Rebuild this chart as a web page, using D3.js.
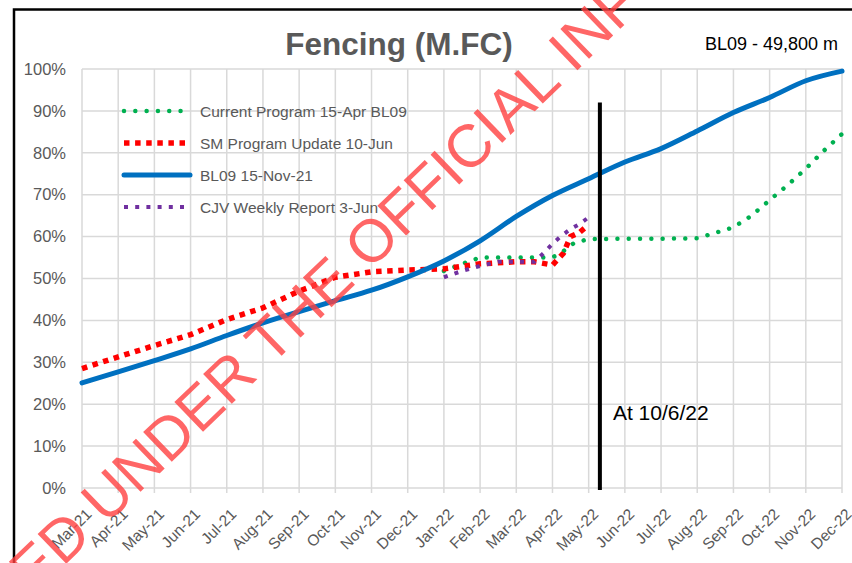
<!DOCTYPE html>
<html>
<head>
<meta charset="utf-8">
<script src="https://cdn.jsdelivr.net/npm/d3@7"></script>
<style>
  body { margin: 0; background: #fff; }
  svg { display: block; font-family: 'Liberation Sans', Arial, sans-serif; }
</style>
</head>
<body>
<div id="graf"></div>
<script>
// datos
months = ['Mar-21', 'Apr-21', 'May-21', 'Jun-21', 'Jul-21', 'Aug-21', 'Sep-21', 'Oct-21',
          'Nov-21', 'Dec-21', 'Jan-22', 'Feb-22', 'Mar-22', 'Apr-22', 'May-22', 'Jun-22',
          'Jul-22', 'Aug-22', 'Sep-22', 'Oct-22', 'Nov-22', 'Dec-22']
yTicks = [0, 10, 20, 30, 40, 50, 60, 70, 80, 90, 100]

// BL09 15-Nov-21, one value per month
bl09Values = [25.1, 27.7, 30.4, 33.2, 36.4, 39.4, 42.1, 44.7, 47.2, 50.4, 54.2, 59.0,
              64.8, 69.8, 73.8, 77.8, 81.0, 85.2, 89.6, 93.2, 97.2, 99.5]

// SM Program Update 10-Jun (month position, %)
smPos    = [0, 1, 2, 3, 4, 5, 6, 7, 8, 9, 10, 11, 12, 12.5, 13, 13.3, 13.5, 13.75, 14]
smValues = [28.5, 31.3, 34.0, 36.6, 40.2, 43.0, 47.0, 50.3, 51.6, 52.0, 52.3, 53.5, 54.0, 54.0, 53.2, 56.0, 60.0, 61.0, 62.8]

// Current Program 15-Apr BL09
cpPos    = [10, 10.5, 11, 12, 13, 13.3, 13.6, 14, 15, 16, 17, 17.5, 18, 18.5, 19, 19.5, 20, 20.5, 21]
cpValues = [51.8, 53.5, 55.0, 55.0, 55.0, 56.5, 58.5, 59.4, 59.5, 59.5, 59.6, 60.9, 62.2, 65.0, 68.7, 72.3, 76.2, 80.5, 84.5]

// CJV Weekly Report 3-Jun
cjvPos    = [10, 10.5, 11, 11.5, 12, 12.5, 12.75, 13, 13.25, 13.5, 13.75, 14]
cjvValues = [50.3, 51.8, 53.0, 54.0, 54.0, 54.0, 56.0, 58.3, 60.2, 61.8, 63.0, 64.6]

markerPos = 14.31
markerTop = 92
markerLabel = 'At 10/6/22'

series = [
  { name: 'Current Program 15-Apr BL09', pos: cpPos, vals: cpValues, color: '#00B050', width: 4.5, dash: '0.01 11.3', cap: 'round' },
  { name: 'SM Program Update 10-Jun', pos: smPos, vals: smValues, color: '#FF0000', width: 5.5, dash: '5.5 5.6', cap: 'butt' },
  { name: 'BL09 15-Nov-21', pos: months.map((m, i) => i), vals: bl09Values, color: '#0070C0', width: 5, dash: null, cap: 'round' },
  { name: 'CJV Weekly Report 3-Jun', pos: cjvPos, vals: cjvValues, color: '#7030A0', width: 4, dash: '4 7.2', cap: 'butt' }
]

// I. Configuración
ancho_total = 852
alto_total = 563
margins = { top: 69, left: 82, right: 10, bottom: 75 }
ancho = 842 - margins.left
alto = 488 - margins.top

svg = d3.select('#graf').append('svg')
        .attr('width', ancho_total)
        .attr('height', alto_total)

// marco exterior
svg.append('path')
   .attr('d', 'M14,600 L14,9.5 L860,9.5')
   .attr('fill', 'none')
   .attr('stroke', '#000')
   .attr('stroke-width', 2.5)

g = svg.append('g')
       .attr('transform', `translate(${margins.left}, ${margins.top})`)

x = d3.scaleLinear().domain([0, months.length - 1]).range([0, ancho])
y = d3.scaleLinear().domain([0, 100]).range([alto, 0])

// grid
g.append('g')
 .selectAll('line')
 .data(months)
 .join('line')
   .attr('x1', (d, i) => x(i)).attr('x2', (d, i) => x(i))
   .attr('y1', 0).attr('y2', alto + 5)
   .attr('stroke', '#d9d9d9').attr('stroke-width', 1.5)

g.append('g')
 .selectAll('line')
 .data(yTicks)
 .join('line')
   .attr('x1', 0).attr('x2', ancho)
   .attr('y1', d => y(d)).attr('y2', d => y(d))
   .attr('stroke', '#d9d9d9').attr('stroke-width', 1.5)

// eje y
yAxis = g.append('g')
         .call(d3.axisLeft(y).tickValues(yTicks).tickSize(0).tickPadding(16).tickFormat(d => d + '%'))
yAxis.select('.domain').remove()
yAxis.selectAll('text')
     .attr('fill', '#595959')
     .style('font-size', '16.5px')
     .style('font-family', "'Liberation Sans', Arial, sans-serif")

// eje x
xAxis = g.append('g')
         .attr('transform', `translate(0, ${alto})`)
         .call(d3.axisBottom(x).tickValues(months.map((m, i) => i)).tickSize(0).tickFormat(i => months[i]))
xAxis.select('.domain').remove()
xAxis.selectAll('text')
     .attr('fill', '#595959')
     .attr('text-anchor', 'end')
     .attr('dy', 0)
     .attr('transform', 'translate(8, 25) rotate(-45)')
     .style('font-size', '15.5px')
     .style('font-family', "'Liberation Sans', Arial, sans-serif")

// series
line = d3.line()
         .x(d => x(d[0]))
         .y(d => y(d[1]))

series.forEach(s => {
  pts = s.pos.map((p, i) => [p, s.vals[i]])
  g.append('path')
   .datum(pts)
   .attr('d', s.dash ? line.curve(d3.curveLinear)(pts) : line.curve(d3.curveMonotoneX)(pts))
   .attr('fill', 'none')
   .attr('stroke', s.color)
   .attr('stroke-width', s.width)
   .attr('stroke-dasharray', s.dash)
   .attr('stroke-linecap', s.cap)
   .attr('stroke-linejoin', 'round')
})

// línea vertical de fecha
g.append('line')
 .attr('x1', x(markerPos)).attr('x2', x(markerPos))
 .attr('y1', y(markerTop)).attr('y2', y(0) + 2)
 .attr('stroke', '#000').attr('stroke-width', 4)

g.append('text')
 .attr('x', x(markerPos) + 13)
 .attr('y', y(16.3))
 .attr('fill', '#000')
 .style('font-size', '21px')
 .text(markerLabel)

// leyenda
leyenda = g.append('g').attr('transform', 'translate(40, 42)')
series.forEach((s, i) => {
  fila = leyenda.append('g').attr('transform', `translate(0, ${i * 32})`)
  fila.append('line')
      .attr('x1', 2).attr('x2', 68)
      .attr('stroke', s.color)
      .attr('stroke-width', s.width)
      .attr('stroke-dasharray', s.dash)
      .attr('stroke-linecap', s.cap)
  fila.append('text')
      .attr('x', 78).attr('y', 5.5)
      .attr('fill', '#595959')
      .style('font-size', '15.5px')
      .text(s.name)
})

// títulos
svg.append('text')
   .attr('x', 399).attr('y', 55)
   .attr('text-anchor', 'middle')
   .attr('fill', '#595959')
   .style('font-size', '31.5px')
   .style('font-weight', 'bold')
   .text('Fencing (M.FC)')

svg.append('text')
   .attr('x', 838).attr('y', 50)
   .attr('text-anchor', 'end')
   .attr('fill', '#000')
   .style('font-size', '18px')
   .text('BL09 - 49,800 m')

// marca de agua
svg.append('text')
   .attr('transform', 'translate(416, 226) rotate(-44)')
   .attr('text-anchor', 'middle')
   .attr('fill', '#ff4040')
   .attr('fill-opacity', 0.8)
   .style('font-size', '60px')
   .text('RELEASED UNDER THE OFFICIAL INFORMATION ACT')
</script>
</body>
</html>
